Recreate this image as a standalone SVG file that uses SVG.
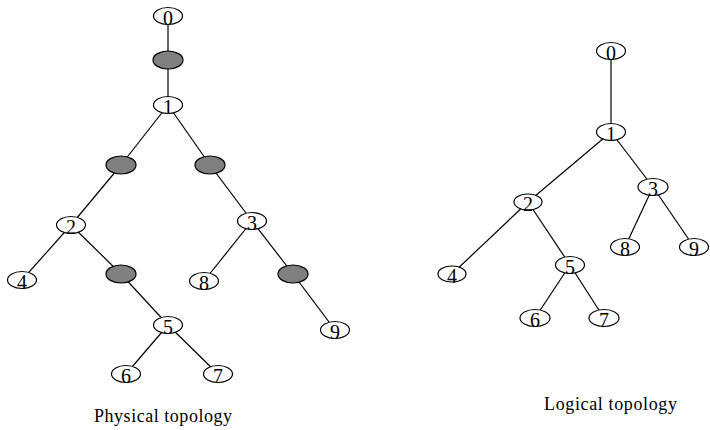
<svg xmlns="http://www.w3.org/2000/svg" width="710" height="430" viewBox="0 0 710 430">
<style>
.e{stroke:#000;stroke-width:1.2;fill:none}
.n{fill:#fff;stroke:#000;stroke-width:1.2}
.g{fill:#808080;stroke:#000;stroke-width:1.2}
.t{font-family:"Liberation Serif","Times New Roman",serif;font-size:20px;text-anchor:middle;fill:#000}
.c{font-family:"Liberation Serif","Times New Roman",serif;font-size:18px;fill:#000}
</style>
<rect width="710" height="430" fill="#fff"/>
<g id="connectors">
<line class="e" x1="168" y1="16" x2="168" y2="60"/>
<line class="e" x1="168" y1="60" x2="168" y2="105"/>
<line class="e" x1="168" y1="105" x2="121" y2="165"/>
<line class="e" x1="168" y1="105" x2="210" y2="165"/>
<line class="e" x1="121" y1="165" x2="71" y2="225"/>
<line class="e" x1="210" y1="165" x2="252" y2="221"/>
<line class="e" x1="71" y1="225" x2="22" y2="280"/>
<line class="e" x1="71" y1="225" x2="121" y2="274"/>
<line class="e" x1="121" y1="274" x2="168" y2="325"/>
<line class="e" x1="252" y1="221" x2="204" y2="281"/>
<line class="e" x1="252" y1="221" x2="293" y2="274"/>
<line class="e" x1="293" y1="274" x2="335" y2="330"/>
<line class="e" x1="168" y1="325" x2="126" y2="374"/>
<line class="e" x1="168" y1="325" x2="218" y2="374"/>
<line class="e" x1="611" y1="51" x2="611" y2="132"/>
<line class="e" x1="611" y1="132" x2="528" y2="202"/>
<line class="e" x1="611" y1="132" x2="653" y2="187"/>
<line class="e" x1="528" y1="202" x2="452" y2="274"/>
<line class="e" x1="528" y1="202" x2="570" y2="265"/>
<line class="e" x1="653" y1="187" x2="625" y2="247"/>
<line class="e" x1="653" y1="187" x2="694" y2="247"/>
<line class="e" x1="570" y1="265" x2="535" y2="318"/>
<line class="e" x1="570" y1="265" x2="604" y2="318"/>
</g>
<g id="p0"><ellipse class="n" cx="168" cy="16" rx="14.5" ry="8.5"/><text class="t" x="168" y="25">0</text></g>
<g id="pg01"><ellipse class="g" cx="168" cy="60" rx="15" ry="9"/></g>
<g id="p1"><ellipse class="n" cx="168" cy="105" rx="14.5" ry="8.5"/><text class="t" x="168" y="114">1</text></g>
<g id="pg12"><ellipse class="g" cx="121" cy="165" rx="15" ry="9"/></g>
<g id="pg13"><ellipse class="g" cx="210" cy="165" rx="15" ry="9"/></g>
<g id="p2"><ellipse class="n" cx="71" cy="225" rx="14.5" ry="8.5"/><text class="t" x="71" y="234">2</text></g>
<g id="p3"><ellipse class="n" cx="252" cy="221" rx="14.5" ry="8.5"/><text class="t" x="252" y="230">3</text></g>
<g id="p4"><ellipse class="n" cx="22" cy="280" rx="14.5" ry="8.5"/><text class="t" x="22" y="289">4</text></g>
<g id="pg25"><ellipse class="g" cx="121" cy="274" rx="15" ry="9"/></g>
<g id="p8"><ellipse class="n" cx="204" cy="281" rx="14.5" ry="8.5"/><text class="t" x="204" y="290">8</text></g>
<g id="pg39"><ellipse class="g" cx="293" cy="274" rx="15" ry="9"/></g>
<g id="p5"><ellipse class="n" cx="168" cy="325" rx="14.5" ry="8.5"/><text class="t" x="168" y="334">5</text></g>
<g id="p9"><ellipse class="n" cx="335" cy="330" rx="14.5" ry="8.5"/><text class="t" x="335" y="339">9</text></g>
<g id="p6"><ellipse class="n" cx="126" cy="374" rx="14.5" ry="8.5"/><text class="t" x="126" y="383">6</text></g>
<g id="p7"><ellipse class="n" cx="218" cy="374" rx="14.5" ry="8.5"/><text class="t" x="218" y="383">7</text></g>
<g id="l0"><ellipse class="n" cx="611" cy="51" rx="14.5" ry="8.5"/><text class="t" x="611" y="60">0</text></g>
<g id="l1"><ellipse class="n" cx="611" cy="132" rx="14.5" ry="8.5"/><text class="t" x="611" y="141">1</text></g>
<g id="l2"><ellipse class="n" cx="528" cy="202" rx="14" ry="8"/><text class="t" x="528" y="211">2</text></g>
<g id="l3"><ellipse class="n" cx="653" cy="187" rx="15" ry="8.5"/><text class="t" x="653" y="196">3</text></g>
<g id="l4"><ellipse class="n" cx="452" cy="274" rx="14" ry="8"/><text class="t" x="452" y="283">4</text></g>
<g id="l5"><ellipse class="n" cx="570" cy="265" rx="14.5" ry="8.5"/><text class="t" x="570" y="274">5</text></g>
<g id="l8"><ellipse class="n" cx="625" cy="247" rx="14.5" ry="8.5"/><text class="t" x="625" y="256">8</text></g>
<g id="l9"><ellipse class="n" cx="694" cy="247" rx="14.5" ry="8.5"/><text class="t" x="694" y="256">9</text></g>
<g id="l6"><ellipse class="n" cx="535" cy="318" rx="15" ry="8.5"/><text class="t" x="535" y="327">6</text></g>
<g id="l7"><ellipse class="n" cx="604" cy="318" rx="15" ry="8.5"/><text class="t" x="604" y="327">7</text></g>
<text class="c" x="94" y="422" textLength="138" lengthAdjust="spacing">Physical topology</text>
<text class="c" x="544" y="410" textLength="133" lengthAdjust="spacing">Logical topology</text>
</svg>
